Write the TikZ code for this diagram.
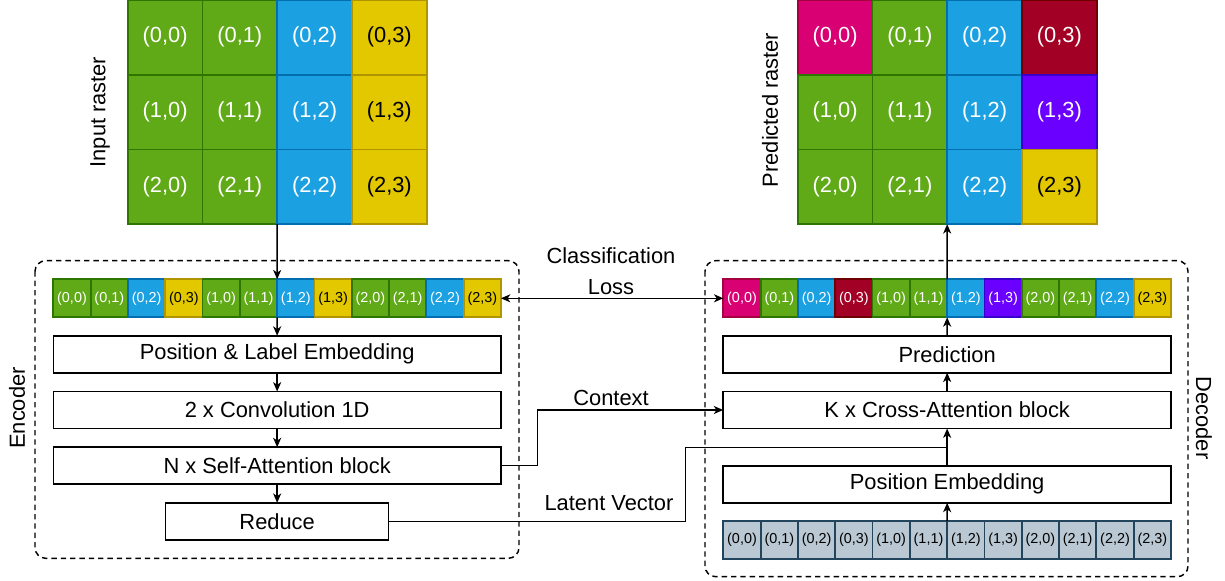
\documentclass[tikz,border=0pt]{standalone}
\usepackage{fontspec}
\setmainfont{Liberation Sans}
\usetikzlibrary{arrows.meta}

\definecolor{cgreen}{HTML}{60A917}
\definecolor{cgreenb}{HTML}{2D7600}
\definecolor{cblue}{HTML}{1BA1E2}
\definecolor{cblueb}{HTML}{006EAF}
\definecolor{cyellow}{HTML}{E3C800}
\definecolor{cyellowb}{HTML}{B09500}
\definecolor{cmagenta}{HTML}{D80073}
\definecolor{cmagentab}{HTML}{A50040}
\definecolor{cred}{HTML}{A20025}
\definecolor{credb}{HTML}{6F0000}
\definecolor{cpurple}{HTML}{6A00FF}
\definecolor{cpurpleb}{HTML}{3700CC}
\definecolor{cgray}{HTML}{BAC8D3}
\definecolor{cgrayb}{HTML}{23445D}

\tikzset{every picture/.style={line width=1.1pt}}
\tikzset{
  rcell/.style={draw, line width=1.3pt, minimum width=56.06pt, minimum height=56.06pt, inner sep=0pt, outer sep=0pt, font=\fontsize{16.4}{19}\selectfont},
  scell/.style={draw, line width=1.3pt, minimum width=27.98pt, minimum height=28.5pt, inner sep=0pt, outer sep=0pt, font=\fontsize{10.8}{12}\selectfont},
  gr/.style={fill=cgreen, draw=cgreenb, text=white},
  bl/.style={fill=cblue, draw=cblueb, text=white},
  ye/.style={fill=cyellow, draw=cyellowb, text=black},
  mg/.style={fill=cmagenta, draw=cmagentab, text=white},
  rd/.style={fill=cred, draw=credb, text=white},
  pu/.style={fill=cpurple, draw=cpurpleb, text=white},
  gy/.style={fill=cgray, draw=cgrayb, text=black},
  block/.style={draw, line width=1.2pt, fill=white, minimum height=27.75pt, inner sep=0pt, outer sep=0pt, font=\fontsize{16.4}{19}\selectfont},
  lbl/.style={inner sep=0pt, font=\fontsize{16.4}{19}\selectfont},
  arr/.style={-{Stealth[length=7pt,width=6pt,inset=2pt]}},
  darr/.style={{Stealth[length=7pt,width=6pt,inset=2pt]}-{Stealth[length=7pt,width=6pt,inset=2pt]}},
  group/.style={dashed, dash pattern=on 4pt off 3pt, line width=1.1pt, rounded corners=8pt},
}

\begin{document}
\begin{tikzpicture}[x=0.75pt,y=0.75pt,yscale=-1,xscale=1]
\useasboundingbox (0,0) rectangle (1225,581);

%Dashed groups
\draw [group] (35,260.7) rectangle (519,558.3) ;
\draw [group] (705,260.7) rectangle (1188,576.7) ;

%Input raster
\node [rcell, gr] (in00) at (165.1,37.3) {(0,0)};
\node [rcell, gr] (in01) at (239.8,37.3) {(0,1)};
\node [rcell, bl] (in02) at (314.6,37.3) {(0,2)};
\node [rcell, ye] (in03) at (389.3,37.3) {(0,3)};
\node [rcell, gr] (in10) at (165.1,112.1) {(1,0)};
\node [rcell, gr] (in11) at (239.8,112.1) {(1,1)};
\node [rcell, bl] (in12) at (314.6,112.1) {(1,2)};
\node [rcell, ye] (in13) at (389.3,112.1) {(1,3)};
\node [rcell, gr] (in20) at (165.1,186.8) {(2,0)};
\node [rcell, gr] (in21) at (239.8,186.8) {(2,1)};
\node [rcell, bl] (in22) at (314.6,186.8) {(2,2)};
\node [rcell, ye] (in23) at (389.3,186.8) {(2,3)};

%Predicted raster
\node [rcell, mg] (out00) at (835.1,37.3) {(0,0)};
\node [rcell, gr] (out01) at (909.8,37.3) {(0,1)};
\node [rcell, bl] (out02) at (984.6,37.3) {(0,2)};
\node [rcell, rd] (out03) at (1059.3,37.3) {(0,3)};
\node [rcell, gr] (out10) at (835.1,112.1) {(1,0)};
\node [rcell, gr] (out11) at (909.8,112.1) {(1,1)};
\node [rcell, bl] (out12) at (984.6,112.1) {(1,2)};
\node [rcell, pu] (out13) at (1059.3,112.1) {(1,3)};
\node [rcell, gr] (out20) at (835.1,186.8) {(2,0)};
\node [rcell, gr] (out21) at (909.8,186.8) {(2,1)};
\node [rcell, bl] (out22) at (984.6,186.8) {(2,2)};
\node [rcell, ye] (out23) at (1059.3,186.8) {(2,3)};

%Encoder sequence
\node [scell, gr] (es0) at (72.0,298.3) {(0,0)};
\node [scell, gr] (es1) at (109.3,298.3) {(0,1)};
\node [scell, bl] (es2) at (146.6,298.3) {(0,2)};
\node [scell, ye] (es3) at (183.9,298.3) {(0,3)};
\node [scell, gr] (es4) at (221.2,298.3) {(1,0)};
\node [scell, gr] (es5) at (258.5,298.3) {(1,1)};
\node [scell, bl] (es6) at (295.8,298.3) {(1,2)};
\node [scell, ye] (es7) at (333.1,298.3) {(1,3)};
\node [scell, gr] (es8) at (370.4,298.3) {(2,0)};
\node [scell, gr] (es9) at (407.7,298.3) {(2,1)};
\node [scell, bl] (es10) at (445.0,298.3) {(2,2)};
\node [scell, ye] (es11) at (482.3,298.3) {(2,3)};

%Decoder sequence
\node [scell, mg] (ds0) at (742.0,298.3) {(0,0)};
\node [scell, gr] (ds1) at (779.3,298.3) {(0,1)};
\node [scell, bl] (ds2) at (816.6,298.3) {(0,2)};
\node [scell, rd] (ds3) at (853.9,298.3) {(0,3)};
\node [scell, gr] (ds4) at (891.2,298.3) {(1,0)};
\node [scell, gr] (ds5) at (928.5,298.3) {(1,1)};
\node [scell, bl] (ds6) at (965.8,298.3) {(1,2)};
\node [scell, pu] (ds7) at (1003.1,298.3) {(1,3)};
\node [scell, gr] (ds8) at (1040.4,298.3) {(2,0)};
\node [scell, gr] (ds9) at (1077.7,298.3) {(2,1)};
\node [scell, bl] (ds10) at (1115.0,298.3) {(2,2)};
\node [scell, ye] (ds11) at (1152.3,298.3) {(2,3)};

%Query sequence
\node [scell, gy] (qs0) at (742.0,540) {(0,0)};
\node [scell, gy] (qs1) at (779.3,540) {(0,1)};
\node [scell, gy] (qs2) at (816.6,540) {(0,2)};
\node [scell, gy] (qs3) at (853.9,540) {(0,3)};
\node [scell, gy] (qs4) at (891.2,540) {(1,0)};
\node [scell, gy] (qs5) at (928.5,540) {(1,1)};
\node [scell, gy] (qs6) at (965.8,540) {(1,2)};
\node [scell, gy] (qs7) at (1003.1,540) {(1,3)};
\node [scell, gy] (qs8) at (1040.4,540) {(2,0)};
\node [scell, gy] (qs9) at (1077.7,540) {(2,1)};
\node [scell, gy] (qs10) at (1115.0,540) {(2,2)};
\node [scell, gy] (qs11) at (1152.3,540) {(2,3)};

%Encoder blocks
\node [block, minimum width=335.5pt] (posenc) at (277.15,354.2) {Position \& Label Embedding};
\node [block, minimum width=335.5pt] (conv) at (277.15,410) {2 x Convolution 1D};
\node [block, minimum width=335.5pt] (selfatt) at (277.15,465.7) {N x Self-Attention block};
\node [block, minimum width=167.2pt] (reduce) at (277.15,521.3) {Reduce};

%Decoder blocks
\node [block, minimum width=336pt] (pred) at (947.15,354.2) {Prediction};
\node [block, minimum width=336pt] (crossatt) at (947.15,410) {K x Cross-Attention block};
\node [block, minimum width=336pt] (posdec) at (947.15,484.3) {Position Embedding};

%Encoder flow
\draw [arr] (in21.south east) -- (es5.north east) ;
\draw [arr] (es5.south east) -- (posenc.north) ;
\draw [arr] (posenc) -- (conv) ;
\draw [arr] (conv) -- (selfatt) ;
\draw [arr] (selfatt) -- (reduce) ;

%Decoder flow
\draw [arr] (qs5.north east) -- (posdec.south) ;
\draw [arr] (posdec) -- (crossatt) ;
\draw [arr] (crossatt) -- (pred) ;
\draw [arr] (pred.north) -- (ds5.south east) ;
\draw [arr] (ds5.north east) -- (out21.south east) ;

%Context and latent
\draw [arr] (selfatt.east) -- ++(36.6,0) |- (crossatt.west) ;
\coordinate (latjoin) at (947.15,447.3) ;
\draw (reduce.east) -- ++(297,0) |- (latjoin) ;

%Loss
\draw [darr] (es11.east) -- (ds0.west) ;

% Text Node
\node [lbl, align=center] (loss) at (611,271) {Classification\\[4pt]Loss};
% Text Node
\node [lbl] (ctx) at (611,398) {Context};
% Text Node
\node [lbl] (lat) at (609,503) {Latent Vector};
% Text Node
\node [lbl, rotate=90] (enc) at (17,408) {Encoder};
% Text Node
\node [lbl, rotate=-90] (dec) at (1204,418) {Decoder};
% Text Node
\node [lbl, rotate=90] (inlbl) at (100,112) {Input raster};
% Text Node
\node [lbl, rotate=90] (outlbl) at (770,110) {Predicted raster};

\end{tikzpicture}
\end{document}
